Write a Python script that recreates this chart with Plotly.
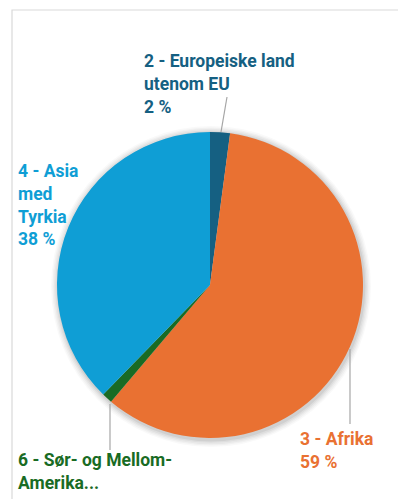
import plotly.graph_objects as go

# Regions and their shares (percent), drawn clockwise from 12 o'clock
regions = ["2 - Europeiske land utenom EU", "3 - Afrika", "6 - Sør- og Mellom-Amerika", "4 - Asia med Tyrkia"]
shares = [2.1, 59.1, 1.1, 37.7]
colors = ["#156082", "#E97132", "#196B24", "#0F9ED5"]

# Label text as broken across lines in the callouts
label_lines = [
    ["2 - Europeiske land", "utenom EU"],
    ["3 - Afrika"],
    ["6 - Sør- og Mellom-", "Amerika..."],
    ["4 - Asia", "med", "Tyrkia"],
]
show_pct = [True, True, False, True]

W, H = 398, 499


def px(x):
    return x / W


def py(y):
    return 1 - y / H


cx, cy, r = 210, 285, 153

fig = go.Figure()
fig.add_trace(go.Pie(
    labels=regions,
    values=shares,
    sort=False,
    direction="clockwise",
    rotation=0,
    marker=dict(colors=colors, line=dict(width=0)),
    textinfo="none",
    hoverinfo="label+percent",
    showlegend=False,
    domain=dict(x=[px(cx - r), px(cx + r)], y=[py(cy + r), py(cy - r)]),
))

shapes = []
# outer chart frame
shapes.append(dict(type="rect", xref="paper", yref="paper",
                   x0=px(12), x1=px(420), y0=py(520), y1=py(10),
                   line=dict(color="#D9D9D9", width=1.2), fillcolor="rgba(0,0,0,0)", layer="below"))
# soft shadow around the pie
for i, a in enumerate([0.025, 0.03, 0.035, 0.045, 0.06]):
    g = 7 - i * 1.4
    shapes.append(dict(type="circle", xref="paper", yref="paper",
                       x0=px(cx - r - g + 1), x1=px(cx + r + g + 1),
                       y0=py(cy + r + g + 2), y1=py(cy - r - g + 1),
                       line=dict(width=0), fillcolor=f"rgba(0,0,0,{a})", layer="below"))

# leader lines
leaders = [
    ((227, 97), (221, 132)),
    ((350, 349), (350, 424)),
    ((110, 404), (110, 450)),
]
for (x0, y0), (x1, y1) in leaders:
    shapes.append(dict(type="line", xref="paper", yref="paper",
                       x0=px(x0), y0=py(y0), x1=px(x1), y1=py(y1),
                       line=dict(color="#A6A6A6", width=1.2)))

# callout anchor points (top-left of each text block)
anchors = [(142, 49), (298, 427), (16, 448), (16, 159)]
annotations = []
for lines, pct_on, share, col, (ax, ay) in zip(label_lines, show_pct, shares, colors, anchors):
    txt = list(lines)
    if pct_on:
        txt.append(f"{round(share)} %")
    annotations.append(dict(
        x=px(ax), y=py(ay), xref="paper", yref="paper",
        xanchor="left", yanchor="top", align="left", showarrow=False,
        text="<br>".join(f"<b>{t}</b>" for t in txt),
        font=dict(family="Roboto", size=17.5, color=col),
    ))

fig.update_layout(
    width=W, height=H,
    margin=dict(l=0, r=0, t=0, b=0),
    paper_bgcolor="white",
    plot_bgcolor="white",
    shapes=shapes,
    annotations=annotations,
)

fig.write_html("out.html")
